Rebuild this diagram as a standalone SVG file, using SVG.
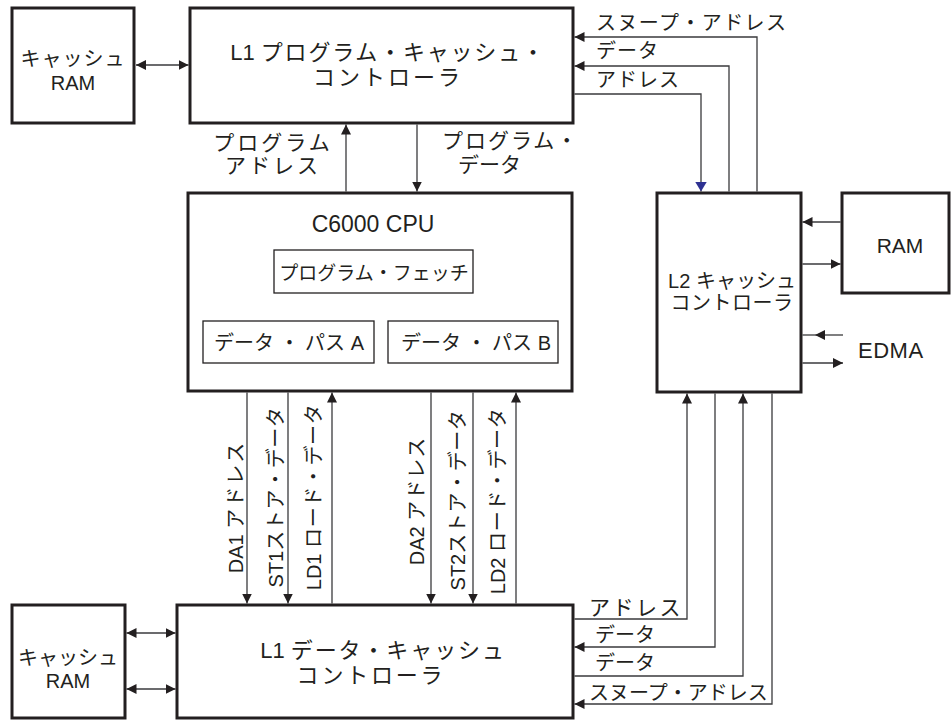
<svg xmlns="http://www.w3.org/2000/svg" width="952" height="720" viewBox="0 0 952 720">
<style>
.box{fill:#fff;stroke:#231f20;stroke-width:3}
.sub{fill:#fff;stroke:#231f20;stroke-width:1.3}
.c{fill:none;stroke:#3a3a3c;stroke-width:1.3}
text{font-family:"Liberation Sans","Noto Sans CJK JP",sans-serif;fill:#231f20}
.t22{font-size:22px}
.t21{font-size:21px}
.t20{font-size:20px}
.t19{font-size:19px}
.m{text-anchor:middle}
</style>
<defs>
<marker id="a" markerUnits="userSpaceOnUse" markerWidth="11" markerHeight="10" refX="10" refY="5" orient="auto-start-reverse">
<path d="M0,0 L10,5 L0,10 z" fill="#231f20"/>
</marker>
<marker id="ab" markerUnits="userSpaceOnUse" markerWidth="11" markerHeight="12" refX="10" refY="6" orient="auto">
<path d="M0,0 L10,6 L0,12 z" fill="#2e3192"/>
</marker>
</defs>
<rect width="952" height="720" fill="#fff"/>

<g id="connectors">
<line class="c" x1="136" y1="65" x2="188.5" y2="65" marker-start="url(#a)" marker-end="url(#a)"/>
<line class="c" x1="346" y1="191.5" x2="346" y2="124.5" marker-end="url(#a)"/>
<line class="c" x1="417" y1="124.5" x2="417" y2="191.5" marker-end="url(#a)"/>
<path class="c" d="M757,191.5 V37 H574.5" marker-end="url(#a)"/>
<path class="c" d="M729,191.5 V66 H574.5" marker-end="url(#a)"/>
<path class="c" d="M574.5,94 H701 V191.5" marker-end="url(#ab)"/>
<line class="c" x1="840.5" y1="222" x2="802.5" y2="222" marker-end="url(#a)"/>
<line class="c" x1="802.5" y1="264" x2="840.5" y2="264" marker-end="url(#a)"/>
<line class="c" x1="843" y1="335" x2="815" y2="335" marker-end="url(#a)"/>
<line class="c" x1="815" y1="335" x2="802.5" y2="335"/>
<line class="c" x1="802.5" y1="363" x2="843" y2="363" marker-end="url(#a)"/>
<line class="c" x1="247" y1="392.5" x2="247" y2="603.5" marker-end="url(#a)"/>
<line class="c" x1="288" y1="392.5" x2="288" y2="603.5" marker-end="url(#a)"/>
<line class="c" x1="332" y1="603.5" x2="332" y2="392.5" marker-end="url(#a)"/>
<line class="c" x1="431" y1="392.5" x2="431" y2="603.5" marker-end="url(#a)"/>
<line class="c" x1="473" y1="392.5" x2="473" y2="603.5" marker-end="url(#a)"/>
<line class="c" x1="516" y1="603.5" x2="516" y2="392.5" marker-end="url(#a)"/>
<path class="c" d="M574.5,619 H687 V393.5" marker-end="url(#a)"/>
<path class="c" d="M715,393.5 V647 H574.5" marker-end="url(#a)"/>
<path class="c" d="M574.5,676 H743 V393.5" marker-end="url(#a)"/>
<path class="c" d="M772,393.5 V704 H574.5" marker-end="url(#a)"/>
<line class="c" x1="126.5" y1="633" x2="175.5" y2="633" marker-start="url(#a)" marker-end="url(#a)"/>
<line class="c" x1="126.5" y1="689" x2="175.5" y2="689" marker-start="url(#a)" marker-end="url(#a)"/>
</g>

<g id="labels">
<text class="t20" x="596" y="30" letter-spacing="1.4">スヌープ・アドレス</text>
<text class="t20" x="596" y="58" letter-spacing="1">データ</text>
<text class="t20" x="596" y="87" letter-spacing="1">アドレス</text>
<text class="t21 m" x="273" y="150" letter-spacing="3">プログラム</text>
<text class="t21 m" x="273" y="173" letter-spacing="3">アドレス</text>
<text class="t21" x="442" y="148" letter-spacing="2">プログラム・</text>
<text class="t21" x="458" y="172">データ</text>
<text class="t20 m" transform="translate(243,507) rotate(-90)">DA1 <tspan letter-spacing="2">アドレス</tspan></text>
<text class="t20 m" transform="translate(283,497) rotate(-90)">ST1<tspan letter-spacing="0.6">ストア・データ</tspan></text>
<text class="t20 m" transform="translate(321,497) rotate(-90)">LD1 <tspan letter-spacing="0.6">ロード・データ</tspan></text>
<text class="t20 m" transform="translate(424,501) rotate(-90)">DA2 <tspan letter-spacing="1">アドレス</tspan></text>
<text class="t20 m" transform="translate(465,500) rotate(-90)">ST2<tspan letter-spacing="0.6">ストア・データ</tspan></text>
<text class="t20 m" transform="translate(505,501) rotate(-90)">LD2 <tspan letter-spacing="0.6">ロード・データ</tspan></text>
<text class="t21" x="589" y="615" letter-spacing="2.5">アドレス</text>
<text class="t20" x="595" y="642">データ</text>
<text class="t20" x="595" y="670">データ</text>
<text class="t20" x="589" y="700">スヌープ・アドレス</text>
<text class="t22" x="858" y="358" letter-spacing="0.5">EDMA</text>
</g>

<g id="cache-ram-top">
<rect class="box" x="12" y="8" width="122" height="115"/>
<text class="t20 m" x="73" y="66" letter-spacing="1">キャッシュ</text>
<text class="t20 m" x="73" y="90">RAM</text>
</g>

<g id="l1p">
<rect class="box" x="190" y="8" width="383" height="115"/>
<text class="t22 m" x="388" y="60">L1 <tspan letter-spacing="1.8">プログラム・キャッシュ・</tspan></text>
<text class="t22 m" x="388" y="85" letter-spacing="3">コントローラ</text>
</g>

<g id="cpu">
<rect class="box" x="188" y="193" width="384" height="198"/>
<text class="t22 m" x="373" y="232" style="font-size:23px">C6000 CPU</text>
</g>

<g id="fetch">
<rect class="sub" x="274" y="250" width="199" height="43"/>
<text class="t19 m" x="374" y="280">プログラム・フェッチ</text>
</g>

<g id="dpa">
<rect class="sub" x="203" y="321" width="171" height="42"/>
<text class="t20 m" x="289" y="350">データ ・ パス A</text>
</g>

<g id="dpb">
<rect class="sub" x="388" y="321" width="170" height="42"/>
<text class="t20 m" x="476" y="350">データ ・ パス B</text>
</g>

<g id="l2">
<rect class="box" x="657" y="193" width="144" height="199"/>
<text class="t20 m" x="732" y="288">L2 キャッシュ</text>
<text class="t20 m" x="732" y="310" letter-spacing="0.5">コントローラ</text>
</g>

<g id="ram">
<rect class="box" x="842" y="193" width="107" height="100"/>
<text class="t21 m" x="900" y="253">RAM</text>
</g>

<g id="cache-ram-bottom">
<rect class="box" x="12" y="605" width="113" height="113"/>
<text class="t20 m" x="68" y="665">キャッシュ</text>
<text class="t20 m" x="68" y="688">RAM</text>
</g>

<g id="l1d">
<rect class="box" x="177" y="605" width="396" height="113"/>
<text class="t22 m" x="383" y="658">L1 <tspan letter-spacing="1.9">データ・キャッシュ</tspan></text>
<text class="t22 m" x="371" y="683" letter-spacing="2.8">コントローラ</text>
</g>
</svg>
